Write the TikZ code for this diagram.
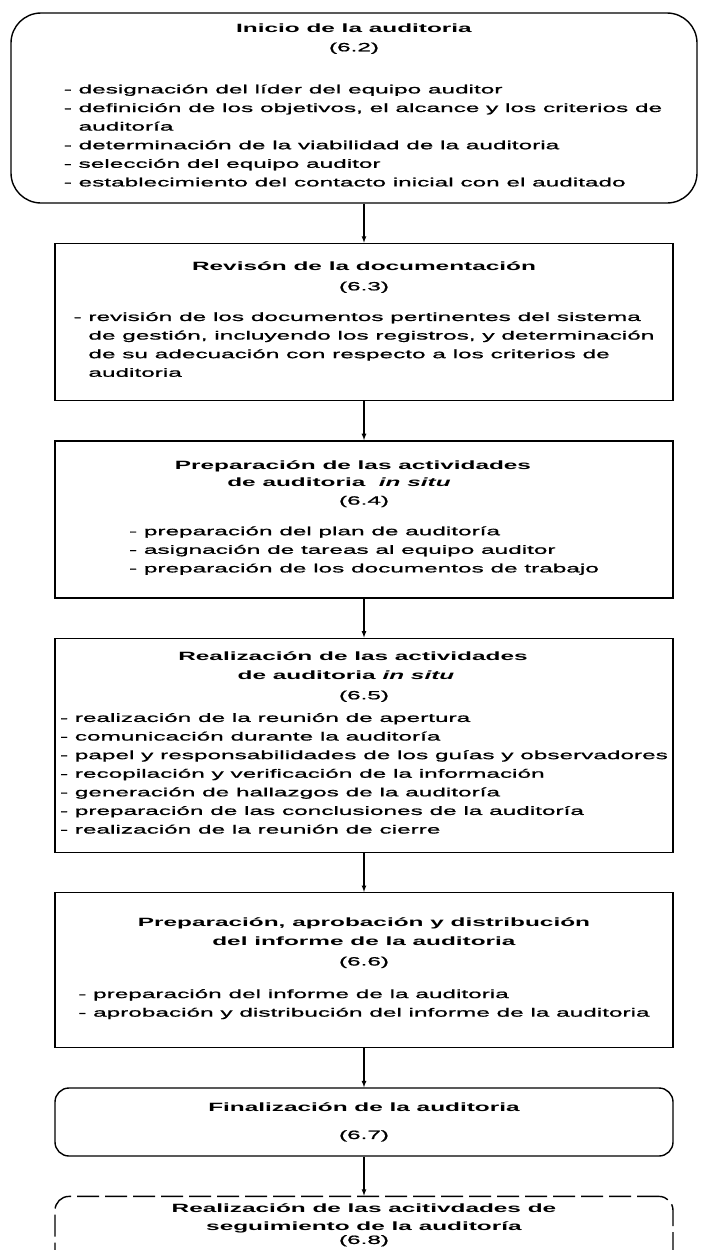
\documentclass[tikz,border=0pt]{standalone}
\usepackage{fontspec}
\setmainfont{Liberation Sans}[
  FakeStretch=2.03,
  UprightFeatures={FakeBold=1.0},
  ItalicFeatures={FakeBold=1.0}]
\usetikzlibrary{arrows, positioning}

\begin{document}
\begin{tikzpicture}[
      x=1pt,
      y=1pt,
      node distance=39pt,
      every node/.style={font=\fontsize{12}{18.6}\selectfont},
      etapa/.style={
          rectangle,
          draw,
          line width=1.4pt,
          align=center,
          inner sep=0pt,
          minimum width=618pt
        },
      etapa-ini/.style={
          etapa,
          rounded corners=30pt,
          minimum width=686pt
        },
      etapa-fin/.style={
          etapa,
          rounded corners=14pt
        },
      etapa-seg/.style={
          etapa-fin,
          dash pattern=on 22pt off 6pt
        },
      arrow/.style={
          -latex,
          line width=1.2pt
        }
    ]

    \useasboundingbox (0,0) rectangle (707,-1250);
    \clip (0,0) rectangle (707,-1250);

    % Nodes
    \node[etapa-ini, minimum height=190pt] (inicio) at (354,-108) {%
      \textbf{Inicio de la auditoria}\\(6.2)\\[23.5pt]
      \hspace*{18pt}\begin{tabular}[t]{@{}l@{}}
        - designación del líder del equipo auditor\\
        - definición de los objetivos, el alcance y los criterios de\\
        \phantom{- }auditoría\\
        - determinación de la viabilidad de la auditoria\\
        - selección del equipo auditor\\
        - establecimiento del contacto inicial con el auditado
      \end{tabular}};
    \node[etapa, minimum height=157pt, below=39pt of inicio, xshift=10pt] (revision) {%
      \textbf{Revisón de la documentación}\\[1.5pt](6.3)\\[12pt]
      \begin{tabular}[t]{@{}l@{}}
        - revisión de los documentos pertinentes del sistema\\
        \phantom{- }de gestión, incluyendo los registros, y determinación\\
        \phantom{- }de su adecuación con respecto a los criterios de\\
        \phantom{- }auditoria
      \end{tabular}};
    \node[etapa, minimum height=157pt, below=of revision] (preparacion) {%
      \hspace*{-22pt}\textbf{Preparación de las actividades}\\[-2pt]
      \hspace*{-50pt}\textbf{de auditoria\ \ \textit{in situ}}\\(6.4)\\[12pt]
      \begin{tabular}[t]{@{}l@{}}
        - preparación del plan de auditoría\\
        - asignación de tareas al equipo auditor\\
        - preparación de los documentos de trabajo
      \end{tabular}};
    \node[etapa, minimum height=214pt, below=of preparacion] (realizacion) {%
      \hspace*{-22pt}\textbf{Realización de las actividades}\\[1pt]
      \hspace*{-36pt}\textbf{de auditoria \textit{in situ}}\\[1pt](6.5)\\[4pt]
      \begin{tabular}[t]{@{}l@{}}
        - realización de la reunión de apertura\\
        - comunicación durante la auditoría\\
        - papel y responsabilidades de los guías y observadores\\
        - recopilación y verificación de la información\\
        - generación de hallazgos de la auditoría\\
        - preparación de las conclusiones de la auditoría\\
        - realización de la reunión de cierre
      \end{tabular}};
    \node[etapa, minimum height=155pt, below=of realizacion] (informe) {%
      \textbf{Preparación, aprobación y distribución}\\
      \textbf{del informe de la auditoria}\\[1.5pt](6.6)\\[14pt]
      \begin{tabular}[t]{@{}l@{}}
        - preparación del informe de la auditoria\\
        - aprobación y distribución del informe de la auditoria
      \end{tabular}};
    \node[etapa-fin, minimum height=68pt, below=of informe] (finalizacion) {%
      \textbf{Finalización de la auditoria}\\[9pt](6.7)};
    \node[etapa-seg, minimum height=71pt, below=of finalizacion] (seguimiento) {%
      \textbf{Realización de las acitivdades de}\\[-1pt]
      \textbf{seguimiento de la auditoría}\\[-5pt](6.8)\rule[-16pt]{0pt}{16pt}};

    % Arrows
    \draw[arrow] (inicio.south -| revision.north) -- (revision.north);
    \draw[arrow] (revision) -- (preparacion);
    \draw[arrow] (preparacion) -- (realizacion);
    \draw[arrow] (realizacion) -- (informe);
    \draw[arrow] (informe) -- (finalizacion);
    \draw[arrow] (finalizacion) -- (seguimiento);
  \end{tikzpicture}
\end{document}
